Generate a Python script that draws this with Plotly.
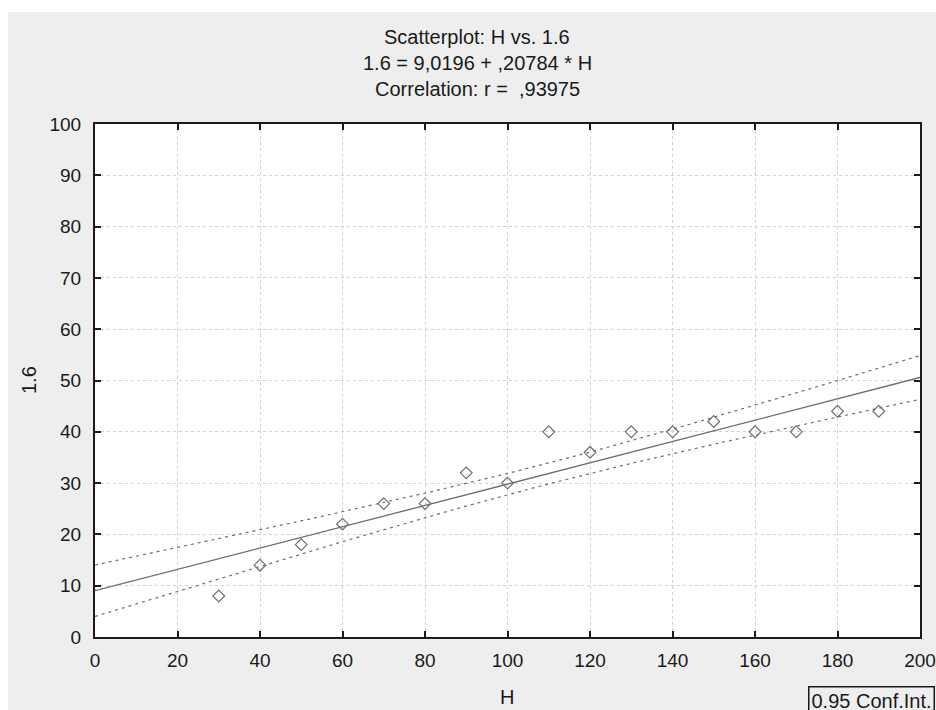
import numpy as np
import plotly.graph_objects as go

# Observations
h_values = [30, 40, 50, 60, 70, 80, 90, 100, 110, 120, 130, 140, 150, 160, 170, 180, 190]
y_values = [8, 14, 18, 22, 26, 26, 32, 30, 40, 36, 40, 40, 42, 40, 40, 44, 44]

x_ticks = [0, 20, 40, 60, 80, 100, 120, 140, 160, 180, 200]
y_ticks = [0, 10, 20, 30, 40, 50, 60, 70, 80, 90, 100]

T_975_DF15 = 2.13145  # two-sided 95% Student t, 15 degrees of freedom

x = np.array(h_values, dtype=float)
y = np.array(y_values, dtype=float)
n = len(x)
slope, intercept = np.polyfit(x, y, 1)
resid = y - (intercept + slope * x)
s = np.sqrt(np.sum(resid ** 2) / (n - 2))
sxx = np.sum((x - x.mean()) ** 2)

xf = np.linspace(0, 200, 201)
yf = intercept + slope * xf
half = T_975_DF15 * s * np.sqrt(1.0 / n + (xf - x.mean()) ** 2 / sxx)

FONT = "Liberation Sans, Arial, sans-serif"
INK = "#1a1a1a"
MARK = "#6e6e6e"

fig = go.Figure()
fig.add_trace(go.Scatter(x=xf, y=yf + half, mode="lines",
                         line=dict(color=MARK, width=1.2, dash="3px,4px"), hoverinfo="skip"))
fig.add_trace(go.Scatter(x=xf, y=yf - half, mode="lines",
                         line=dict(color=MARK, width=1.2, dash="3px,4px"), hoverinfo="skip"))
fig.add_trace(go.Scatter(x=xf, y=yf, mode="lines",
                         line=dict(color=MARK, width=1.3), hoverinfo="skip"))
fig.add_trace(go.Scatter(x=h_values, y=y_values, mode="markers",
                         marker=dict(symbol="diamond-open", size=9, color=MARK,
                                     line=dict(width=1.2, color=MARK))))

L, R, T, B = 95, 16, 124, 73
W, H = 936, 710
pw, ph = W - L - R, H - T - B


def px_x(p):
    return (p - L) / pw


def px_y(p):
    return (H - B - p) / ph


axis_common = dict(showline=True, linecolor=INK, linewidth=2, mirror="ticks",
                   ticks="inside", ticklen=6, tickwidth=2, tickcolor=INK,
                   showgrid=True, gridcolor="#d2d2d2", gridwidth=1, griddash="dot",
                   zeroline=False, automargin=False,
                   tickfont=dict(family=FONT, size=19, color=INK))

fig.update_layout(
    width=W, height=H,
    margin=dict(l=L, r=R, t=T, b=B),
    paper_bgcolor="#eeeeee",
    plot_bgcolor="white",
    showlegend=False,
    font=dict(family=FONT, color=INK),
    xaxis=dict(range=[0, 200], tickvals=x_ticks, ticklabelstandoff=5, **axis_common),
    yaxis=dict(range=[0, 100], tickvals=y_ticks, ticklabelstandoff=8, **axis_common),
)

title_lines = ["Scatterplot: H vs. 1.6",
               "1.6 = 9,0196 + ,20784 * H",
               "Correlation: r =  ,93975"]
for i, line in enumerate(title_lines):
    fig.add_annotation(text=line, xref="paper", yref="paper",
                       x=px_x(477), y=px_y(37 + 26 * i), showarrow=False,
                       xanchor="center", yanchor="middle",
                       font=dict(family=FONT, size=20, color=INK))

fig.add_annotation(text="H", xref="paper", yref="paper", x=px_x(507), y=px_y(697),
                   showarrow=False, xanchor="center", yanchor="middle",
                   font=dict(family=FONT, size=20, color=INK))
fig.add_annotation(text="1.6", xref="paper", yref="paper", x=px_x(29), y=px_y(380),
                   showarrow=False, xanchor="center", yanchor="middle", textangle=-90,
                   font=dict(family=FONT, size=20, color=INK))
fig.add_annotation(text="0.95 Conf.Int.", xref="paper", yref="paper",
                   x=px_x(808), y=px_y(686), showarrow=False,
                   xanchor="left", yanchor="top", align="left",
                   bordercolor=INK, borderwidth=1.5, borderpad=2, bgcolor="#eeeeee",
                   font=dict(family=FONT, size=20, color=INK))

# white strips along the top and left edges of the window
fig.add_shape(type="rect", xref="paper", yref="paper", layer="below",
              x0=px_x(0), x1=px_x(W), y0=px_y(0), y1=px_y(12),
              fillcolor="white", line=dict(width=0))
fig.add_shape(type="rect", xref="paper", yref="paper", layer="below",
              x0=px_x(0), x1=px_x(8), y0=px_y(0), y1=px_y(H),
              fillcolor="white", line=dict(width=0))

# place the figure flush with the window corner
page_css = "document.body.style.margin='0';"

fig.write_html("out.html", post_script=page_css)
